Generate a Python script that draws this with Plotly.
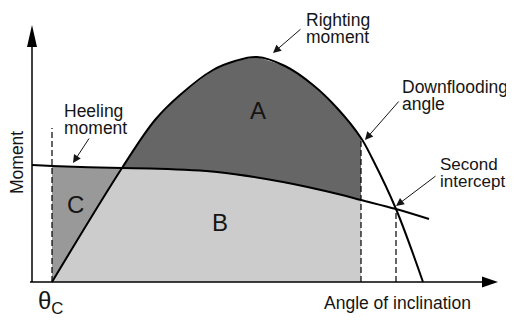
import plotly.graph_objects as go

# 復原モーメント曲線 (角度[deg], モーメント)
RIGHT_X = [4, 18, 24.6, 29.6, 36.2, 40.6, 45, 50.6, 56.2, 61, 65.8, 68, 72.8, 78.2]
RIGHT_Y = [0, 45.6, 64.8, 74.8, 84.8, 88.4, 90, 86.4, 78.8, 69.6, 57.6, 49.6, 29.2, 0]

# 傾斜モーメント曲線
HEEL_X = [0, 4, 18, 23.6, 37, 50.2, 61.6, 65.8, 72.8, 79.4]
HEEL_Y = [46.8, 46.4, 45.6, 45.4, 44, 40, 35, 32.8, 29.2, 25.2]

THETA_C = 4
DOWNFLOOD = 65.8
SECOND = 72.8
X_END = 93.2
Y_END = 102.8

# index helpers
I_C = HEEL_X.index(THETA_C)       # theta_c on heeling curve
I_X = HEEL_X.index(RIGHT_X[1])    # first intercept
I_D = HEEL_X.index(DOWNFLOOD)
J_D = RIGHT_X.index(DOWNFLOOD)

TXT = "#151515"
FONT = "Liberation Sans"

# ページ余白(8px)の分だけ範囲をずらす
OFF = 8
X_RANGE = [-6.4 + OFF / 5, 96.4 + OFF / 5]
Y_RANGE = [-16.4 - OFF / 2.5, 112.8 - OFF / 2.5]

fig = go.Figure()

# B: 薄いグレー
bx = [RIGHT_X[0]] + HEEL_X[I_X:I_D + 1] + [DOWNFLOOD, RIGHT_X[0]]
by = [0] + HEEL_Y[I_X:I_D + 1] + [0, 0]
fig.add_trace(go.Scatter(x=bx, y=by, fill="toself", fillcolor="#cccccc",
                         mode="none", hoverinfo="skip"))

# C: 中間グレー
cx = [RIGHT_X[0], HEEL_X[I_C], HEEL_X[I_X], RIGHT_X[0]]
cy = [0, HEEL_Y[I_C], HEEL_Y[I_X], 0]
fig.add_trace(go.Scatter(x=cx, y=cy, fill="toself", fillcolor="#999999",
                         mode="none", hoverinfo="skip"))

# A: 濃いグレー
ax_ = RIGHT_X[1:J_D + 1] + HEEL_X[I_X:I_D + 1][::-1]
ay_ = RIGHT_Y[1:J_D + 1] + HEEL_Y[I_X:I_D + 1][::-1]
fig.add_trace(go.Scatter(x=ax_, y=ay_, fill="toself", fillcolor="#666666",
                         mode="none", hoverinfo="skip"))

# 破線
dash = dict(color="black", width=1.2, dash="6px,3px")
fig.add_trace(go.Scatter(x=[THETA_C, THETA_C], y=[0, 61.6], mode="lines", line=dash))
fig.add_trace(go.Scatter(x=[DOWNFLOOD, DOWNFLOOD], y=[0, RIGHT_Y[J_D]], mode="lines", line=dash))
fig.add_trace(go.Scatter(x=[SECOND, SECOND], y=[0, HEEL_Y[HEEL_X.index(SECOND)]],
                         mode="lines", line=dash))

# 曲線
fig.add_trace(go.Scatter(x=HEEL_X, y=HEEL_Y, mode="lines",
                         line=dict(color="black", width=2, shape="spline")))
fig.add_trace(go.Scatter(x=RIGHT_X, y=RIGHT_Y, mode="lines",
                         line=dict(color="black", width=2, shape="spline")))

# 軸と矢印
fig.add_shape(type="line", x0=0, y0=0, x1=0, y1=Y_END - 8, line=dict(color="black", width=1.5))
fig.add_shape(type="line", x0=-0.4, y0=0, x1=X_END - 3, y1=0, line=dict(color="black", width=1.5))
fig.add_shape(type="path", xsizemode="pixel", ysizemode="pixel", xanchor=0, yanchor=Y_END,
              path="M0,0 L-5,-22 L5,-22 Z", fillcolor="black", line=dict(width=0))
fig.add_shape(type="path", xsizemode="pixel", ysizemode="pixel", xanchor=X_END, yanchor=0,
              path="M0,0 L-16,5.5 L-16,-5.5 Z", fillcolor="black", line=dict(width=0))

# 指示矢印
pointers = [((8.2, 47.6), (11.6, 58)),
            ((48.2, 91.6), (54, 101.6)),
            ((66.6, 56.8), (73.6, 72.8)),
            ((72.8, 30.4), (81, 42.8))]
for (tx, ty), (sx, sy) in pointers:
    fig.add_annotation(x=tx, y=ty, ax=sx, ay=sy, axref="x", ayref="y", text="",
                       showarrow=True, arrowhead=2, arrowsize=1.6, arrowwidth=1,
                       arrowcolor=TXT)

labels = [("Heeling", 6.0, 68.4, 17.5), ("moment", 6.0, 61.8, 17.5),
          ("Righting", 54.4, 105, 17.5), ("moment", 54.4, 98.2, 17.5),
          ("Downflooding", 73.6, 78.2, 17.5), ("angle", 73.6, 71.4, 17.5),
          ("Second", 81.2, 47, 17), ("intercept", 81.2, 40.2, 17),
          ("Angle of inclination", 58.0, -8.2, 17.5)]
for t, x, y, s in labels:
    fig.add_annotation(x=x, y=y, text=t, showarrow=False, xanchor="left", yanchor="middle",
                       font=dict(family=FONT, size=s, color=TXT))

for t, x, y in [("A", 45.2, 68.8), ("B", 37.6, 24), ("C", 8.6, 31.2)]:
    fig.add_annotation(x=x, y=y, text=t, showarrow=False,
                       font=dict(family=FONT, size=24, color=TXT))

fig.add_annotation(x=0.8, y=-8.0, text="θ<sub>C</sub>", showarrow=False, xanchor="left",
                   font=dict(family=FONT, size=24, color=TXT))
fig.add_annotation(x=-3, y=47.6, text="Moment", showarrow=False, textangle=-90,
                   font=dict(family=FONT, size=17.5, color=TXT))

fig.update_xaxes(range=X_RANGE, visible=False)
fig.update_yaxes(range=Y_RANGE, visible=False)
fig.update_layout(width=514, height=323, margin=dict(l=0, r=0, t=0, b=0),
                  showlegend=False, plot_bgcolor="white", paper_bgcolor="white")

fig.write_html("out.html")
